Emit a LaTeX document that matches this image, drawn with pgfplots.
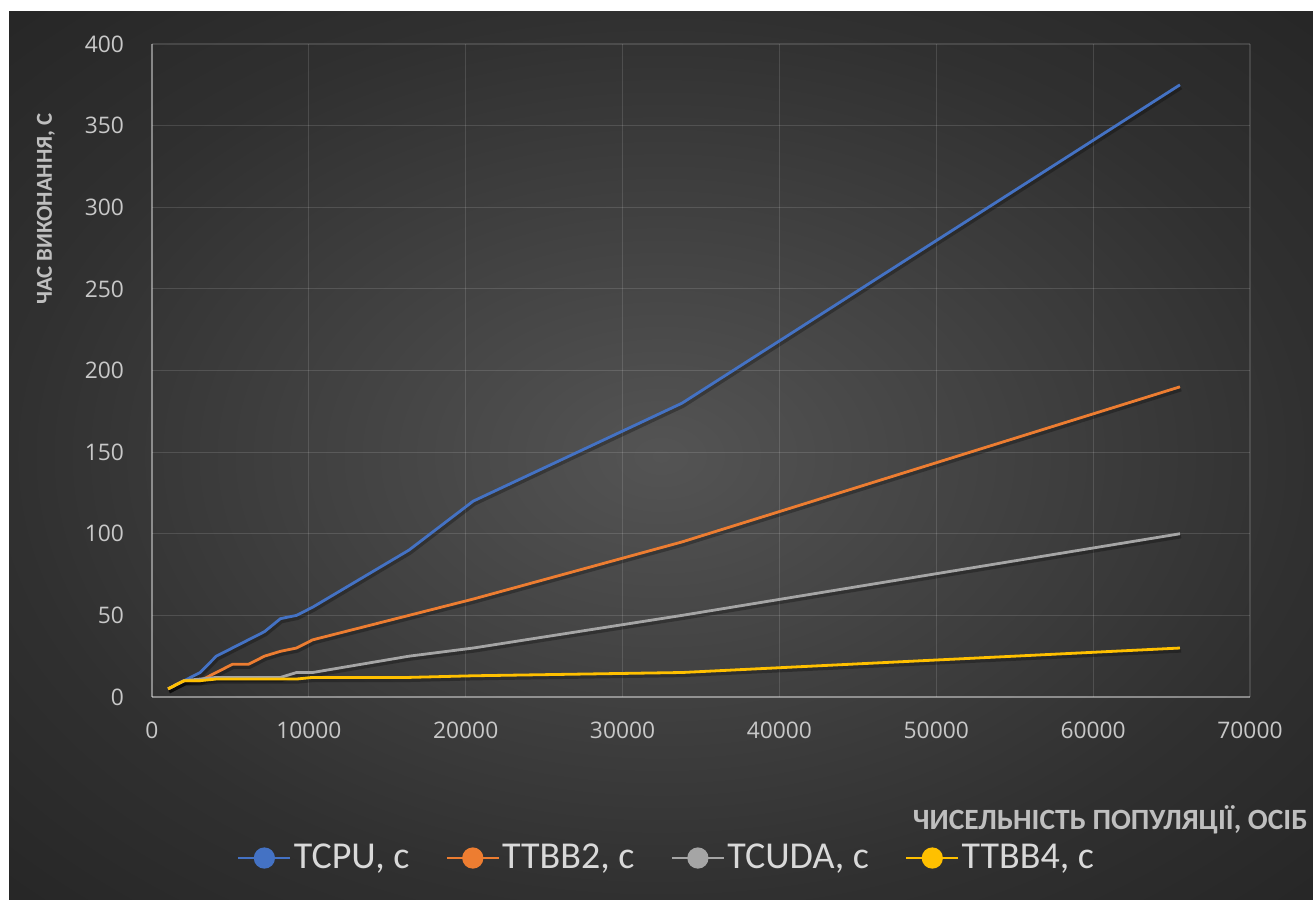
\documentclass[border=0pt]{standalone}
\usepackage{pgfplots}
\pgfplotsset{compat=1.18}
\usepackage{pgfplotstable}
\usepackage{fontspec}
\setmainfont{Carlito}
\newfontfamily\ticksfont{Open Sans}

\definecolor{cpu}{RGB}{68,114,196}
\definecolor{tbbtwo}{RGB}{237,125,49}
\definecolor{cuda}{RGB}{165,165,165}
\definecolor{tbbfour}{RGB}{255,192,0}
\definecolor{bgin}{RGB}{84,84,84}
\definecolor{bgmid}{RGB}{48,48,48}
\definecolor{bgout}{RGB}{38,38,38}
\definecolor{ticktext}{RGB}{200,200,200}
\definecolor{titletext}{RGB}{191,191,191}
\definecolor{legtext}{RGB}{217,217,217}

\pgfdeclareradialshading{chartbg}{\pgfpoint{0bp}{0bp}}{%
  color(0bp)=(bgin); color(25bp)=(bgmid); color(36bp)=(bgout); color(50bp)=(bgout)}

% population size vs. run time (s)
\pgfplotstableread{
n      tcpu  ttbb2  tcuda  ttbb4
1024   5     5      5      5
2048   10    10     10     10
3072   15    10     11     10
4096   25    15     12     11
5120   30    20     12     11
6144   35    20     12     11
7168   40    25     12     11
8192   48    28     12     11
9216   50    30     15     11
10240  55    35     15     12
16384  90    50     25     12
20480  120   60     30     13
33792  180   95     50     15
65536  375   190    100    30
}\runtimes

\begin{document}
\begin{tikzpicture}
\useasboundingbox (0,0) rectangle (656.5pt,450pt);
\fill[white] (0,0) rectangle (656.5pt,450pt);
\shade[shading=chartbg] (4.5pt,0) rectangle (656.5pt,444pt);

\begin{axis}[
  at={(76pt,101.5pt)}, anchor=south west,
  scale only axis, width=549pt, height=326.5pt,
  xmin=0, xmax=70000, ymin=0, ymax=400,
  xtick={0,10000,...,70000}, ytick={0,50,...,400},
  scaled ticks=false,
  /pgf/number format/1000 sep={},
  /pgf/number format/assume math mode=true,
  major tick length=0pt,
  axis x line*=bottom, axis y line*=left,
  axis line style={white, opacity=0.35, line width=0.8pt},
  grid=major,
  major grid style={white, opacity=0.13, line width=0.6pt},
  ticklabel style={font=\ticksfont\fontsize{11.4pt}{13pt}\selectfont, text=ticktext},
  yticklabel style={xshift=-10.5pt},
  xticklabel style={yshift=-9pt},
  legend columns=4,
  legend style={at={(0.4695,-0.2466)}, anchor=center, draw=none, fill=none,
    font=\fontsize{19pt}{22pt}\selectfont, text=legtext,
    /tikz/every even column/.append style={column sep=16pt},
    /tikz/every odd column/.append style={column sep=-1pt}},
  legend image code/.code={
    \draw[line width=1.4pt] (0pt,0pt) -- (26pt,0pt);
    \fill (13pt,0pt) circle (4.6pt);},
  every axis plot/.append style={line width=1.4pt, mark=none, line join=round},
  shadow/.style={black, opacity=0.28, line width=1.8pt, xshift=0.6pt, yshift=-1.4pt, forget plot},
]
% soft drop shadows under the series
\addplot[shadow] table[x=n, y=tcpu] {\runtimes};
\addplot[shadow] table[x=n, y=ttbb2] {\runtimes};
\addplot[shadow] table[x=n, y=tcuda] {\runtimes};
\addplot[shadow] table[x=n, y=ttbb4] {\runtimes};

\addplot[cpu] table[x=n, y=tcpu] {\runtimes};
\addlegendentry{TCPU, c}
\addplot[tbbtwo] table[x=n, y=ttbb2] {\runtimes};
\addlegendentry{TTBB2, c}
\addplot[cuda] table[x=n, y=tcuda] {\runtimes};
\addlegendentry{TCUDA, c}
\addplot[tbbfour] table[x=n, y=ttbb4] {\runtimes};
\addlegendentry{TTBB4, c}
\end{axis}

\node[anchor=east, text=titletext, font=\bfseries\fontsize{14.7pt}{17pt}\selectfont, inner sep=0pt]
  at (654pt,40pt) {ЧИСЕЛЬНІСТЬ ПОПУЛЯЦІЇ, ОСІБ};
\node[rotate=90, text=titletext, font=\bfseries\fontsize{11.4pt}{13pt}\selectfont, inner sep=0pt]
  at (23pt,345.5pt) {ЧАС ВИКОНАННЯ, С};
\end{tikzpicture}
\end{document}
